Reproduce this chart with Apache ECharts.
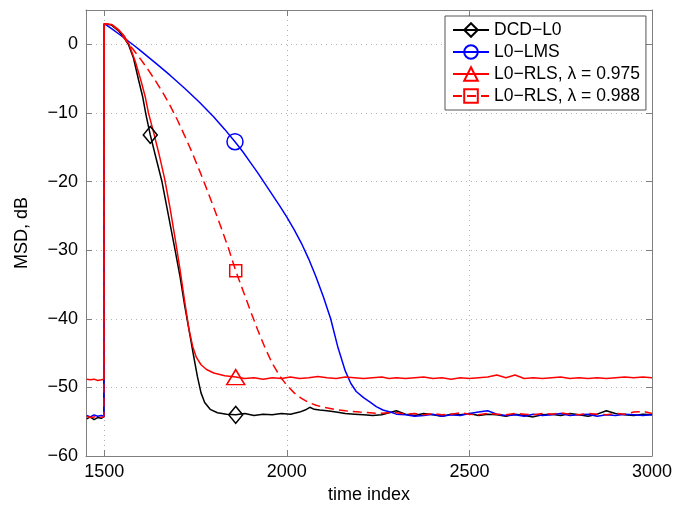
<!DOCTYPE html>
<html>
<head>
<meta charset="utf-8">
<script src="https://cdn.jsdelivr.net/npm/echarts@6/dist/echarts.min.js"></script>
<style>
  html, body { margin: 0; padding: 0; background: #fff; }
  #chart { width: 687px; height: 512px; }
</style>
</head>
<body>
<div id="chart"></div>
<script>
const xTicks = [1500, 2000, 2500, 3000];
const yTicks = [-60, -50, -40, -30, -20, -10, 0];
const seriesNames = ["DCD−L0", "L0−LMS", "L0−RLS, λ = 0.975", "L0−RLS, λ = 0.988"];

// before the change at 1500
const preX = [1452, 1462, 1472, 1482, 1492, 1499];
const dcdPre = [-54.6, -54.3, -54.7, -54.4, -54.5, -54.3];
const lmsPre = [-54.1, -54.3, -54.0, -54.2, -54.1, -54.2];
const rls975Pre = [-48.8, -48.9, -48.8, -49.0, -48.9, -48.8];
const rls988Pre = [-54.2, -54.4, -54.3, -54.2, -54.4, -54.3];

// convergence part
const dcdX = [1500, 1505, 1520, 1540, 1555, 1566, 1580, 1594, 1605, 1614, 1626, 1640, 1658, 1676, 1694, 1708, 1720, 1735, 1745, 1755, 1765, 1775, 1790, 1810, 1835, 1860, 1885, 1910, 1935, 1960, 1985, 2010, 2035, 2050, 2063, 2075, 2090, 2110, 2135, 2160, 2185, 2210, 2235, 2260, 2280];
const dcdY = [3.0, 3.1, 2.8, 1.9, 0.9, 0, -2.0, -5.2, -7.6, -10.2, -13.2, -16.2, -20, -25, -30, -34, -38, -42.5, -45.5, -48.4, -50.8, -52.2, -53.2, -53.7, -53.9, -54.0, -53.8, -54.1, -53.9, -54.0, -53.8, -53.9, -53.6, -53.3, -52.9, -53.2, -53.3, -53.4, -53.6, -53.8, -53.9, -54.0, -54.1, -54.0, -53.7];

const lmsX = [1500, 1520, 1540, 1560, 1580, 1600, 1640, 1680, 1720, 1760, 1800, 1830, 1858, 1880, 1900, 1920, 1940, 1960, 1980, 2000, 2020, 2040, 2060, 2080, 2100, 2120, 2140, 2160, 2175, 2190, 2210, 2227, 2245, 2263, 2290];
const lmsY = [3.0, 2.3, 1.5, 0.7, -0.1, -0.95, -2.7, -4.5, -6.4, -8.4, -10.6, -12.4, -14.2, -15.7, -17.2, -18.7, -20.3, -21.9, -23.5, -25.2, -27.0, -29.0, -31.3, -33.9, -36.8, -40.0, -44.2, -47.6, -49.4, -50.6, -51.5, -52.1, -52.8, -53.3, -53.7];

const rls975X = [1500, 1520, 1540, 1555, 1568, 1585, 1600, 1612, 1621, 1635, 1650, 1665, 1680, 1695, 1708, 1720, 1732, 1742, 1752, 1765, 1780, 1800, 1830, 1860, 1885, 1910, 1935, 1960, 1985, 2010, 2035, 2060, 2085, 2110, 2135, 2160, 2185, 2210, 2235, 2260, 2280];
const rls975Y = [3.0, 2.9, 2.1, 1.2, 0, -2.5, -5.2, -7.6, -10, -12.8, -16.0, -19.5, -23.8, -28.6, -33.0, -37.4, -41.5, -44.0, -45.6, -46.7, -47.4, -47.9, -48.3, -48.5, -48.7, -48.6, -48.8, -48.6, -48.7, -48.5, -48.7, -48.6, -48.4, -48.6, -48.7, -48.5, -48.6, -48.7, -48.6, -48.5, -48.7];

const rls988X = [1500, 1520, 1540, 1560, 1580, 1600, 1620, 1640, 1660, 1680, 1700, 1720, 1740, 1760, 1780, 1800, 1820, 1840, 1860, 1880, 1900, 1920, 1940, 1960, 1980, 2000, 2020, 2040, 2060, 2080, 2100, 2130, 2160, 2200, 2250, 2280];
const rls988Y = [3.0, 2.9, 2.0, 0.5, -0.8, -2.2, -3.7, -5.3, -7.0, -8.9, -11.0, -13.3, -15.7, -18.3, -21.0, -23.8, -26.7, -29.7, -33.0, -35.9, -38.8, -41.6, -44.2, -46.5, -48.3, -49.7, -50.8, -51.6, -52.2, -52.6, -52.9, -53.2, -53.4, -53.6, -53.8, -53.7];

// steady state
const tailX = [2300, 2325, 2350, 2375, 2400, 2425, 2450, 2475, 2500, 2525, 2550, 2575, 2600, 2625, 2650, 2675, 2700, 2725, 2750, 2775, 2800, 2825, 2850, 2875, 2900, 2925, 2950, 2975, 3000];
const dcdTail = [-53.4, -53.9, -54.1, -53.8, -54.0, -54.2, -53.9, -54.0, -53.8, -54.1, -53.9, -54.0, -54.2, -53.9, -54.1, -54.3, -54.0, -53.9, -54.1, -53.8, -54.0, -54.2, -53.9, -53.4, -53.8, -54.0, -54.1, -53.9, -54.0];
const lmsTail = [-53.9, -54.0, -54.2, -54.1, -53.9, -54.2, -54.0, -54.1, -53.8, -53.6, -53.4, -53.9, -54.1, -54.0, -54.2, -53.9, -54.1, -54.0, -53.8, -54.1, -54.0, -53.9, -54.2, -54.0, -54.1, -53.9, -54.0, -54.1, -54.0];
const rls975Tail = [-48.6, -48.7, -48.6, -48.5, -48.7, -48.6, -48.8, -48.6, -48.7, -48.6, -48.5, -48.2, -48.6, -48.2, -48.7, -48.6, -48.7, -48.6, -48.5, -48.7, -48.6, -48.7, -48.6, -48.7, -48.6, -48.5, -48.6, -48.5, -48.6];
const rls988Tail = [-53.7, -53.9, -53.8, -54.0, -53.8, -54.0, -53.9, -53.7, -53.9, -54.0, -53.8, -53.9, -54.0, -53.8, -53.9, -54.0, -53.8, -53.9, -53.7, -53.9, -54.0, -53.8, -53.9, -54.0, -53.8, -53.9, -53.6, -53.5, -53.8];

// where the markers sit
const dcdMarks = [1626, 1860];
const lmsMarks = [1858];
const rls975Marks = [1860];
const rls988Marks = [1860];

function buildData(xs, ys, marks) {
  return xs.map((x, i) =>
    marks.includes(x) ? [x, ys[i]] : { value: [x, ys[i]], symbol: "none" }
  );
}

const fontFamily = "'Liberation Sans', Arial, sans-serif";
const frameColor = "#7f7f7f";

function makeSeries(name, color, symbol, size, dashed, xs, ys, marks) {
  return {
    name: name,
    type: "line",
    symbol: symbol,
    symbolSize: size,
    showSymbol: true,
    data: buildData(xs, ys, marks),
    lineStyle: { color: color, width: 1.5, type: dashed ? [9, 5] : "solid" },
    itemStyle: { color: "rgba(0,0,0,0)", borderColor: color, borderWidth: 1.5 },
    emphasis: { disabled: true },
  };
}

const chart = echarts.init(document.getElementById("chart"));
chart.setOption({
  animation: false,
  backgroundColor: "#fff",
  grid: { left: 86, right: 35, top: 10, bottom: 56 },
  legend: {
    orient: "vertical",
    left: 445,
    top: 16,
    padding: [5, 6, 5, 7],
    itemGap: 4,
    itemWidth: 36,
    itemHeight: 17,
    backgroundColor: "#fff",
    borderColor: "#555",
    borderWidth: 1,
    borderRadius: 0,
    textStyle: { color: "#000", fontSize: 17.5, fontFamily: fontFamily },
    data: seriesNames,
  },
  xAxis: [
    {
      type: "value",
      min: 1450,
      max: 3000,
      name: "time index",
      nameLocation: "middle",
      nameGap: 28,
      nameTextStyle: { color: "#000", fontSize: 18, fontFamily: fontFamily },
      axisLine: { show: true, onZero: false, lineStyle: { color: frameColor, width: 1 } },
      axisTick: { show: true, inside: true, length: 6, customValues: xTicks, lineStyle: { color: frameColor } },
      axisLabel: {
        color: "#000",
        fontSize: 18,
        fontFamily: fontFamily,
        margin: 7,
        customValues: xTicks,
        formatter: (v) => String(v),
      },
      splitLine: { show: true, lineStyle: { color: "#b0b0b0", type: [1, 4], width: 1 } },
    },
    {
      type: "value",
      position: "top",
      min: 1450,
      max: 3000,
      axisLine: { show: true, onZero: false, lineStyle: { color: frameColor, width: 1 } },
      axisTick: { show: true, inside: true, length: 6, customValues: xTicks, lineStyle: { color: frameColor } },
      axisLabel: { show: false },
      splitLine: { show: false },
    },
  ],
  yAxis: [
    {
      type: "value",
      min: -60,
      max: 5,
      name: "MSD, dB",
      nameLocation: "middle",
      nameGap: 55,
      nameTextStyle: { color: "#000", fontSize: 18, fontFamily: fontFamily },
      axisLine: { show: true, onZero: false, lineStyle: { color: frameColor, width: 1 } },
      axisTick: { show: true, inside: true, length: 6, customValues: yTicks, lineStyle: { color: frameColor } },
      axisLabel: {
        color: "#000",
        fontSize: 18,
        fontFamily: fontFamily,
        margin: 8,
        customValues: yTicks,
        formatter: (v) => String(v).replace("-", "−"),
      },
      splitLine: { show: true, lineStyle: { color: "#b0b0b0", type: [1, 4], width: 1 } },
    },
    {
      type: "value",
      position: "right",
      min: -60,
      max: 5,
      axisLine: { show: true, onZero: false, lineStyle: { color: frameColor, width: 1 } },
      axisTick: { show: true, inside: true, length: 6, customValues: yTicks, lineStyle: { color: frameColor } },
      axisLabel: { show: false },
      splitLine: { show: false },
    },
  ],
  series: [
    makeSeries(seriesNames[0], "#000000", "diamond", [14, 17], false,
      preX.concat(dcdX, tailX), dcdPre.concat(dcdY, dcdTail), dcdMarks),
    makeSeries(seriesNames[1], "#0000ff", "circle", 16, false,
      preX.concat(lmsX, tailX), lmsPre.concat(lmsY, lmsTail), lmsMarks),
    makeSeries(seriesNames[2], "#ff0000", "triangle", [18, 15], false,
      preX.concat(rls975X, tailX), rls975Pre.concat(rls975Y, rls975Tail), rls975Marks),
    makeSeries(seriesNames[3], "#ff0000", "rect", 12, true,
      preX.concat(rls988X, tailX), rls988Pre.concat(rls988Y, rls988Tail), rls988Marks),
  ],
});
</script>
</body>
</html>
